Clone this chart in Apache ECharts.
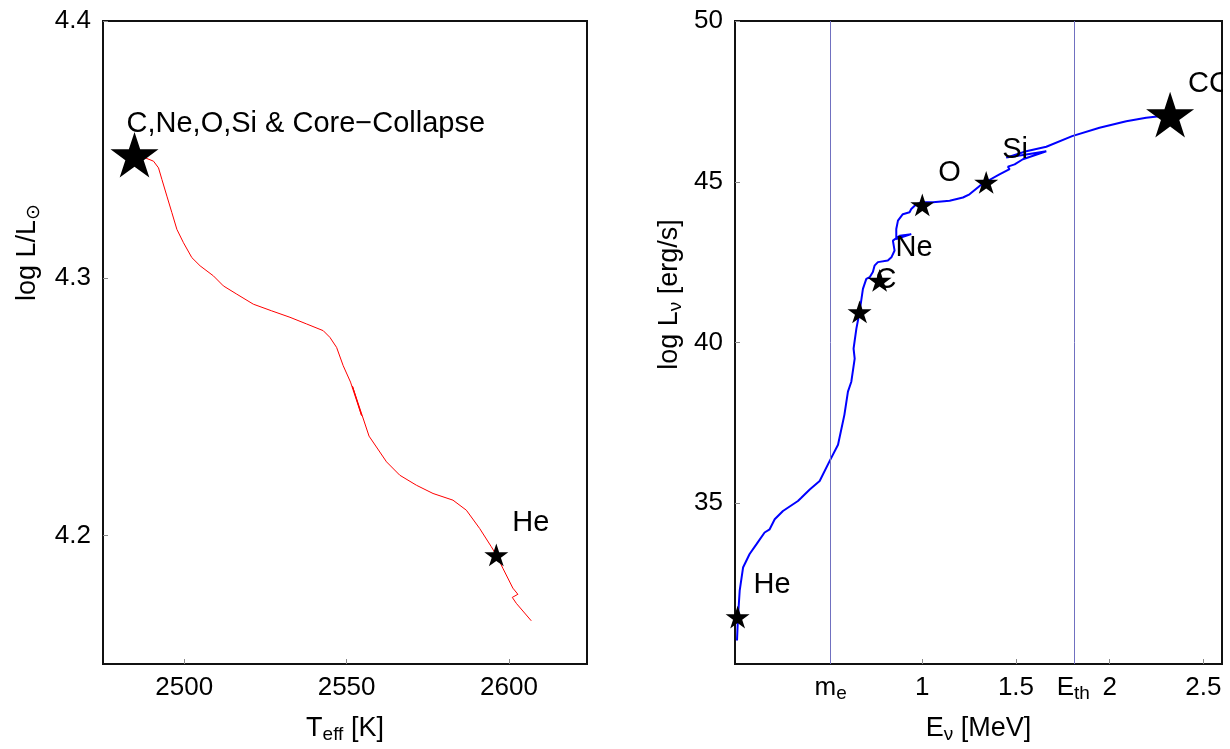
<!DOCTYPE html>
<html>
<head>
<meta charset="utf-8">
<script src="https://cdn.jsdelivr.net/npm/echarts@6/dist/echarts.min.js"></script>
<style>
html, body { margin: 0; padding: 0; background: #fff; }
#chart { width: 1230px; height: 749px; }
</style>
</head>
<body>
<div id="chart"></div>
<script>
// ---- Left panel: stellar track in the HR plane ----
const hrTeff = [2484.7, 2488.0, 2490.55, 2492.09, 2493.13, 2494.67, 2496.2, 2497.74, 2499.77, 2502.35,
  2504.9, 2508.99, 2512.06, 2516.18, 2521.28, 2526.94, 2532.56, 2537.69, 2542.79, 2544.85,
  2546.91, 2548.94, 2551.2, 2554.6, 2551.8, 2556.9, 2562.28, 2566.36, 2571.49, 2576.6,
  2582.74, 2586.86, 2590.95, 2594.54, 2596.08, 2598.11, 2601.18, 2602.72, 2601.0, 2602.23, 2606.84];
const hrLogL = [4.348, 4.3468, 4.3455, 4.3429, 4.3384, 4.3319, 4.3255, 4.319, 4.3138, 4.308,
  4.3048, 4.3009, 4.297, 4.2938, 4.2899, 4.2873, 4.2848, 4.2822, 4.2796, 4.277,
  4.2731, 4.266, 4.2596, 4.2466, 4.258, 4.2386, 4.2286, 4.2234, 4.2195, 4.2163,
  4.2137, 4.2098, 4.2027, 4.1956, 4.1924, 4.1872, 4.1795, 4.1771, 4.1759, 4.1736, 4.1668];
const hrStageNames = ['C,Ne,O,Si & Core\u2212Collapse', 'He'];
const hrStageTeff = [2484.7, 2596.08];
const hrStageLogL = [4.348, 4.1924];
const hrTicksT = [2500, 2550, 2600];
const hrTicksL = [4.2, 4.3, 4.4];

// ---- Right panel: neutrino luminosity vs mean neutrino energy ----
const nuE = [0.0107, 0.016, 0.025, 0.043, 0.078, 0.114, 0.158, 0.185, 0.212, 0.256,
  0.336, 0.354, 0.399, 0.452, 0.505, 0.55, 0.584, 0.603, 0.621, 0.639,
  0.633, 0.648, 0.665, 0.683, 0.701, 0.719, 0.736, 0.745, 0.763, 0.816,
  0.835, 0.852, 0.843, 0.879, 0.941, 0.861, 0.861, 0.87, 0.896, 0.932,
  0.941, 0.968, 1.0, 1.057, 1.146, 1.217, 1.252, 1.306, 1.341, 1.412,
  1.466, 1.457, 1.493, 1.537, 1.662, 1.555, 1.448, 1.555, 1.662, 1.8,
  1.946, 2.089, 2.195, 2.266, 2.323];
const nuLogL = [30.73, 31.46, 32.28, 33.0, 33.42, 33.72, 34.09, 34.19, 34.5, 34.76,
  35.07, 35.17, 35.43, 35.69, 36.31, 36.82, 37.75, 38.47, 38.78, 39.5,
  39.81, 40.43, 40.95, 41.67, 41.98, 42.03, 42.19, 42.39, 42.5, 42.55,
  42.65, 42.86, 43.17, 43.32, 43.37, 43.22, 43.53, 43.79, 43.99, 44.05,
  44.15, 44.3, 44.36, 44.36, 44.41, 44.51, 44.61, 44.87, 45.0, 45.23,
  45.39, 45.47, 45.54, 45.7, 45.95, 45.85, 45.75, 45.95, 46.09, 46.42,
  46.68, 46.88, 46.99, 47.04, 47.09];
const nuStageNames = ['He', 'C', 'Ne', 'O', 'Si', 'CC'];
const nuStageE = [0.014, 0.665, 0.772, 1.0, 1.341, 2.323];
const nuStageL = [31.46, 40.95, 41.93, 44.28, 44.98, 47.09];
const nuTicksE = [1, 1.5, 2, 2.5];
const nuTicksL = [35, 40, 45, 50];
const electronMass = 0.511;   // MeV
const ibdThreshold = 1.806;   // MeV, inverse beta decay threshold

// ---- shared styling ----
const FONT = '"Liberation Sans", Arial, Helvetica, sans-serif';
const STAR = 'path://M50 0 L61.23 34.55 L97.55 34.55 L68.16 55.9 L79.39 90.45 L50 69.1 L20.61 90.45 L31.84 55.9 L2.45 34.55 L38.77 34.55 Z';
const isFinalStage = name => name.indexOf('Collapse') >= 0 || name === 'CC';
const isLongLabel = name => name.length > 4;

const richText = {
  b: { fontSize: 26, lineHeight: 30, fontFamily: FONT, color: '#000' },
  s: { fontSize: 19, lineHeight: 16, verticalAlign: 'bottom', fontFamily: FONT, color: '#000' }
};
const nameRich = {
  b: { fontSize: 27, lineHeight: 30, fontFamily: FONT, color: '#000' },
  s: { fontSize: 19, lineHeight: 16, verticalAlign: 'bottom', fontFamily: FONT, color: '#000' }
};
const tickStyle = { inside: true, length: 5, lineStyle: { color: '#8a8a8a', width: 1 } };

function zipPairs(xs, ys) { return xs.map((x, i) => [x, ys[i]]); }
function stagePoints(names, xs, ys) {
  return names.map((n, i) => ({
    name: n,
    value: [xs[i], ys[i]],
    // the long combined caption starts over the marker; short ones sit up and to the right
    label: { offset: isLongLabel(n) ? [-8, -31] : (isFinalStage(n) ? [18, -31] : [16, -32]) }
  }));
}

const stageSeries = (xi, yi, data) => ({
  type: 'scatter',
  xAxisIndex: xi, yAxisIndex: yi,
  symbol: STAR,
  symbolKeepAspect: true,
  symbolSize: (v, p) => isFinalStage(p.name) ? 48 : 24,
  itemStyle: { color: '#000', opacity: 1 },
  z: 5,
  label: {
    show: true,
    formatter: p => p.name,
    position: 'inside',
    align: 'left',
    verticalAlign: 'middle',
    fontSize: 29,
    fontFamily: FONT,
    color: '#000',
    opacity: 1
  },
  emphasis: { disabled: true },
  data: data
});

const chart = echarts.init(document.getElementById('chart'), null, { renderer: 'canvas' });

const fmtNuE = v => {
  if (Math.abs(v - electronMass) < 1e-6) return '{b|m}{s|e}';
  if (Math.abs(v - ibdThreshold) < 1e-6) return '{b|E}{s|th}';
  return '{b|' + v + '}';
};

chart.setOption({
  animation: false,
  backgroundColor: '#fff',
  grid: [
    { left: 103, top: 21, width: 484, height: 645, show: true, borderColor: '#111', borderWidth: 2, backgroundColor: 'transparent' },
    { left: 735, top: 21, width: 487, height: 645, show: true, borderColor: '#111', borderWidth: 2, backgroundColor: 'transparent' }
  ],
  xAxis: [
    {
      gridIndex: 0, type: 'value', min: 2475, max: 2624,
      axisLine: { show: false },
      splitLine: { show: false },
      axisTick: Object.assign({ customValues: hrTicksT }, tickStyle),
      axisLabel: { customValues: hrTicksT, margin: 9, formatter: v => '{b|' + v + '}', rich: richText },
      name: '{b|T}{s|eff}{b| [K]}',
      nameLocation: 'middle', nameGap: 50,
      nameTextStyle: { rich: nameRich }
    },
    {
      gridIndex: 1, type: 'value', min: 0, max: 2.6,
      axisLine: { show: false },
      splitLine: { show: false },
      axisTick: Object.assign({ customValues: nuTicksE }, tickStyle),
      axisLabel: {
        customValues: [electronMass].concat(nuTicksE.slice(0, 2), [ibdThreshold], nuTicksE.slice(2)),
        margin: 9, formatter: fmtNuE, rich: richText
      },
      name: '{b|E}{s|\u03bd}{b| [MeV]}',
      nameLocation: 'middle', nameGap: 50,
      nameTextStyle: { rich: nameRich }
    }
  ],
  yAxis: [
    {
      gridIndex: 0, type: 'value', min: 4.15, max: 4.4,
      axisLine: { show: false },
      splitLine: { show: false },
      axisTick: Object.assign({ customValues: hrTicksL }, tickStyle),
      axisLabel: { customValues: hrTicksL, margin: 12, formatter: v => '{b|' + v.toFixed(1) + '}', rich: richText },
      name: '{b|log L/L}{s|\u2299}',
      nameLocation: 'middle', nameGap: 60,
      // title sits above the axis midpoint
      nameTextStyle: { rich: nameRich, padding: [0, 0, 0, 180] }
    },
    {
      gridIndex: 1, type: 'value', min: 30, max: 50,
      axisLine: { show: false },
      splitLine: { show: false },
      axisTick: Object.assign({ customValues: nuTicksL }, tickStyle),
      axisLabel: { customValues: nuTicksL, margin: 12, formatter: v => '{b|' + v + '}', rich: richText },
      name: '{b|log L}{s|\u03bd}{b| [erg/s]}',
      nameLocation: 'middle', nameGap: 50,
      nameTextStyle: { rich: nameRich, padding: [0, 0, 0, 96] }
    }
  ],
  series: [
    {
      type: 'line', xAxisIndex: 0, yAxisIndex: 0,
      data: zipPairs(hrTeff, hrLogL),
      showSymbol: false, smooth: false,
      lineStyle: { color: '#ff0000', width: 1 },
      z: 3
    },
    {
      type: 'line', xAxisIndex: 1, yAxisIndex: 1,
      data: zipPairs(nuE, nuLogL),
      showSymbol: false, smooth: false,
      lineStyle: { color: '#0000ff', width: 2 },
      z: 3,
      markLine: {
        silent: true, symbol: 'none',
        label: { show: false },
        lineStyle: { color: '#7070c0', width: 1, type: 'solid' },
        data: [{ xAxis: electronMass }, { xAxis: ibdThreshold }]
      }
    },
    stageSeries(0, 0, stagePoints(hrStageNames, hrStageTeff, hrStageLogL)),
    stageSeries(1, 1, stagePoints(nuStageNames, nuStageE, nuStageL))
  ],
  graphic: [
    // keep the right panel's stage caption inside the frame
    { type: 'rect', right: 0, top: 0, z: 100, shape: { width: 7, height: 749 }, style: { fill: '#fff' } }
  ]
});
</script>
</body>
</html>
